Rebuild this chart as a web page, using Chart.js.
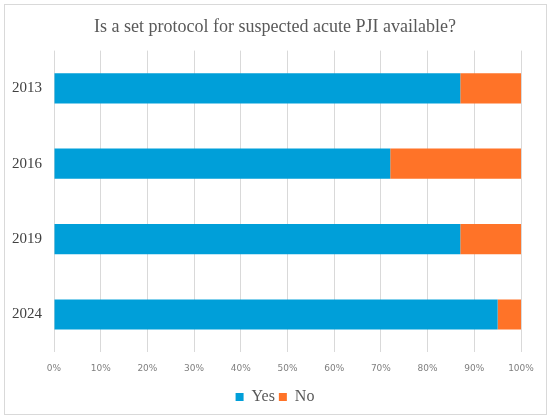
<!DOCTYPE html>
<html>
<head>
<meta charset="utf-8">
<script src="https://cdn.jsdelivr.net/npm/chart.js@4.4.1/dist/chart.umd.min.js"></script>
<style>
  html, body { margin:0; padding:0; background:#fff; }
  #wrap { position:relative; width:550px; height:418px; }
  #frame { position:absolute; left:4px; top:4px; width:541px; height:409px; border:1px solid #d9d9d9; }
  canvas { position:absolute; left:0; top:0; }
</style>
</head>
<body>
<div id="wrap">
  <div id="frame"></div>
  <canvas id="chart" width="550" height="418"></canvas>
</div>
<script>
const titleText = "Is a set protocol for suspected acute PJI available?";
const years = ["2013", "2016", "2019", "2024"];
const yesPct = [87, 72, 87, 95];
const noPct = [13, 28, 13, 5];

const serif = "'Liberation Serif', 'DejaVu Serif', serif";

const ctx = document.getElementById("chart");
new Chart(ctx, {
  type: "bar",
  data: {
    labels: years,
    datasets: [
      { label: "Yes", data: yesPct, backgroundColor: "#009fd9", categoryPercentage: 0.8, barPercentage: 0.5 },
      { label: "No", data: noPct, backgroundColor: "#ff7328", categoryPercentage: 0.8, barPercentage: 0.5 },
    ]
  },
  options: {
    indexAxis: "y",
    responsive: false,
    animation: false,
    layout: { padding: { left: 0, right: 0, top: 0, bottom: 3 } },
    plugins: {
      title: {
        display: true,
        text: titleText,
        color: "#595959",
        font: { family: serif, size: 18, weight: "normal" },
        padding: { top: 16, bottom: 13 }
      },
      legend: {
        display: true,
        position: "bottom",
        labels: {
          color: "#595959",
          boxWidth: 8,
          boxHeight: 8,
          padding: 4,
          font: { family: serif, size: 16 }
        }
      },
      tooltip: { enabled: false }
    },
    scales: {
      x: {
        stacked: true,
        min: 0,
        max: 100,
        ticks: { stepSize: 10, color: "#7f7f7f", padding: 11, font: { family: "'DejaVu Sans', sans-serif", size: 9 }, callback: v => v + "%" },
        grid: { color: "#d9d9d9", drawTicks: false },
        border: { display: false }
      },
      y: {
        stacked: true,
        ticks: { color: "#404040", padding: 12, font: { family: serif, size: 15 } },
        grid: { display: false, drawTicks: false },
        border: { display: false }
      },
      // empty spacer on the right so title/legend stay centred on the canvas
      spacer: {
        type: "category",
        axis: "y",
        position: "right",
        ticks: { display: false },
        grid: { display: false, drawTicks: false },
        border: { display: false },
        afterFit: s => { s.width = 29; }
      }
    }
  }
});
</script>
</body>
</html>
